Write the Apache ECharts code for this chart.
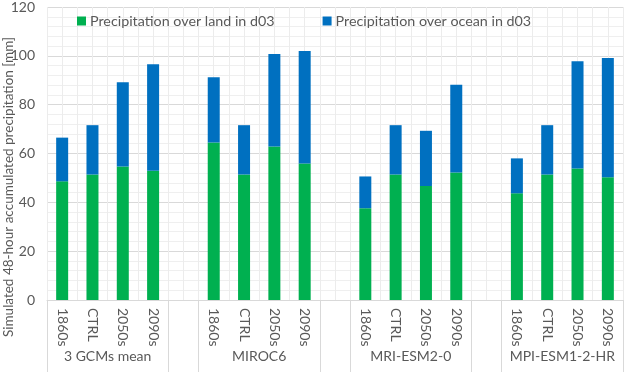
<!DOCTYPE html>
<html><head><meta charset="utf-8">
<script src="https://cdn.jsdelivr.net/npm/echarts@6/dist/echarts.min.js"></script>
<style>html,body{margin:0;padding:0;background:#fff}#c{width:624px;height:372px}</style>
</head><body><div id="c"></div>
<script>
const periods = ['1860s', 'CTRL', '2050s', '2090s'];
const groups = ['3 GCMs mean', 'MIROC6', 'MRI-ESM2-0', 'MPI-ESM1-2-HR'];
// land precipitation per group (1860s, CTRL, 2050s, 2090s)
const landMean  = [48.6, 51.4, 54.7, 52.9];
const landMIROC = [64.5, 51.4, 62.9, 55.9];
const landMRI   = [37.6, 51.4, 46.7, 52.2];
const landMPI   = [43.7, 51.4, 53.9, 50.3];
// ocean precipitation per group
const oceanMean  = [17.9, 20.2, 34.5, 43.7];
const oceanMIROC = [26.7, 20.2, 37.9, 46.1];
const oceanMRI   = [13.0, 20.2, 22.6, 36.0];
const oceanMPI   = [14.3, 20.2, 43.9, 48.8];
const yTicks = [0, 20, 40, 60, 80, 100, 120];

const landGroups = [landMean, landMIROC, landMRI, landMPI];
const oceanGroups = [oceanMean, oceanMIROC, oceanMRI, oceanMPI];
const cats = [], land = [], ocean = [];
groups.forEach((g, gi) => {
  if (gi > 0) { cats.push(''); land.push(null); ocean.push(null); }
  periods.forEach((p, pi) => { cats.push(p); land.push(landGroups[gi][pi]); ocean.push(oceanGroups[gi][pi]); });
});
const n = cats.length;
const sepTicks = [0, 4, 5, 9, 10, 14, 15, 19];
const groupCenters = [2, 7, 12, 17];

const FONT = 'Lato';
const TXT = '#595959';
const chart = echarts.init(document.getElementById('c'));
chart.setOption({
  animation: false,
  textStyle: { fontFamily: FONT },
  grid: { left: 47, right: 1, top: 6, bottom: 72, containLabel: false },
  legend: {
    left: 77, top: 14, padding: 0, itemWidth: 9, itemHeight: 9, itemGap: 48, icon: 'rect',
    textStyle: { color: TXT, fontSize: 14.3, fontFamily: FONT, padding: [0, 0, 0, -1] },
    data: ['Precipitation over land in d03', 'Precipitation over ocean in d03']
  },
  xAxis: [
    { type: 'category', data: cats, position: 'bottom',
      axisLine: { show: true, lineStyle: { color: '#d9d9d9' } },
      axisTick: { show: false },
      axisLabel: { interval: 0, rotate: -90, color: TXT, fontSize: 14, margin: 8, fontFamily: FONT },
      splitLine: { show: false } },
    { type: 'value', min: 0, max: n, interval: 1, position: 'bottom',
      axisLine: { show: false }, axisTick: { show: false }, axisLabel: { show: false },
      splitLine: { show: true, lineStyle: { color: '#ececec' } },
      minorTick: { show: false, splitNumber: 2 },
      minorSplitLine: { show: true, lineStyle: { color: '#ececec' } } },
    { type: 'value', min: 0, max: n, position: 'bottom',
      axisLine: { show: false },
      axisTick: { show: true, customValues: sepTicks, length: 72, lineStyle: { color: '#d9d9d9' } },
      axisLabel: { show: true, customValues: groupCenters, margin: 49, color: TXT, fontSize: 14, fontFamily: FONT,
        formatter: v => groups[groupCenters.indexOf(v)] || '' },
      splitLine: { show: false } }
  ],
  yAxis: { type: 'value', min: 0, max: 120, interval: 20,
    axisLine: { show: false }, axisTick: { show: false },
    axisLabel: { color: TXT, fontSize: 14, margin: 12, fontFamily: FONT, customValues: yTicks },
    splitLine: { show: true, lineStyle: { color: '#d9d9d9' } },
    minorTick: { show: false, splitNumber: 5 },
    minorSplitLine: { show: true, lineStyle: { color: '#efefef' } } },
  graphic: [{ type: 'text', x: 9, y: 187, rotation: Math.PI / 2,
    style: { text: 'Simulated 48-hour accumulated precipitation [mm]', fill: TXT, fontSize: 13.5, fontFamily: FONT,
      align: 'center', verticalAlign: 'middle' } }],
  series: [
    { name: 'Precipitation over land in d03', type: 'bar', stack: 'p', data: land, barWidth: 12,
      itemStyle: { color: '#00b050' }, xAxisIndex: 0 },
    { name: 'Precipitation over ocean in d03', type: 'bar', stack: 'p', data: ocean, barWidth: 12,
      itemStyle: { color: '#0070c0' }, xAxisIndex: 0 }
  ]
});
</script></body></html>
